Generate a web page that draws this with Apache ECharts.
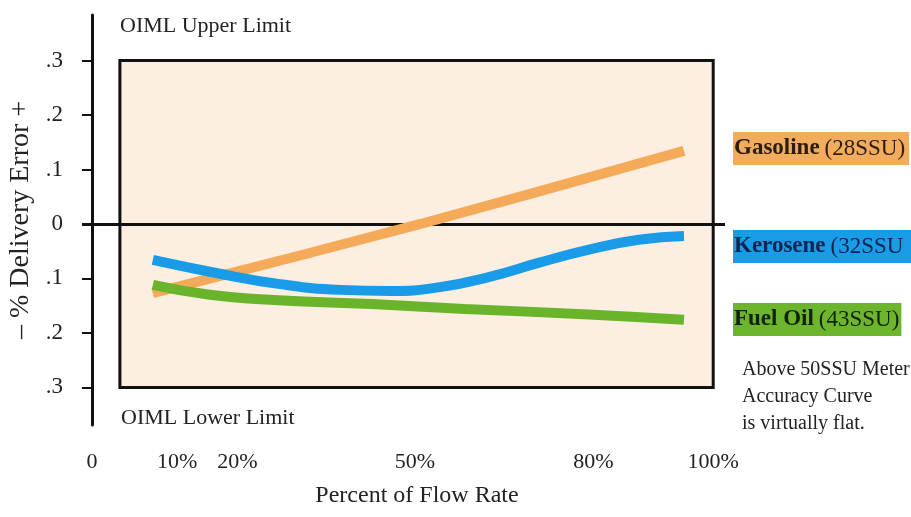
<!DOCTYPE html>
<html>
<head>
<meta charset="utf-8">
<script src="https://cdn.jsdelivr.net/npm/echarts@6/dist/echarts.min.js"></script>
<style>
html,body{margin:0;padding:0;background:#fff;}
#chart{width:911px;height:517px;}
</style>
</head>
<body>
<div id="chart"></div>
<script>
// ---- data ----
const xTickPos = [0, 13.7, 23.4, 52.0, 80.7, 100];
const xTickLabels = ['0', '10%', '20%', '50%', '80%', '100%'];
const yTicks = [-0.3, -0.2, -0.1, 0, 0.1, 0.2, 0.3];
const yTickLabels = ['.3', '.2', '.1', '0', '.1', '.2', '.3'];

const gasolineFlow = [9.8, 52.9, 95.3];
const gasolineError = [-0.127, 0.0, 0.134];

const keroseneFlow = [9.8, 20, 30, 40, 48, 56, 64, 72, 80, 88, 95.3];
const keroseneError = [-0.066, -0.09, -0.11, -0.121, -0.123, -0.116, -0.097, -0.071, -0.047, -0.029, -0.022];

const fuelOilFlow = [9.8, 19, 30, 45, 60, 80, 95.3];
const fuelOilError = [-0.112, -0.13, -0.14, -0.147, -0.156, -0.166, -0.176];

const limitBoxX = [4.5, 100];
const limitBoxY = [-0.3, 0.3];
const xRange = [-1.6, 101.9];
const yRange = [-0.369, 0.3835];

const pairs = (xs, ys) => xs.map((x, i) => [x, ys[i]]);

const serif = '"Liberation Serif", "DejaVu Serif", serif';
const chart = echarts.init(document.getElementById('chart'));

function lineSeries(name, xs, ys, color, smooth) {
  return {
    name, type: 'line', data: pairs(xs, ys), smooth: smooth, symbol: 'none', z: 3,
    lineStyle: { color, width: 10, cap: 'butt' }, silent: true
  };
}

function sideLabel(name, unit, top, bg, fg, padRight) {
  return {
    text: '{b|' + name + '} {n|' + unit + '}',
    left: 733, top: top,
    backgroundColor: bg,
    padding: [5, padRight, 5, 1],
    textStyle: {
      rich: {
        b: { fontFamily: serif, fontSize: 23, fontWeight: 'bold', color: fg, lineHeight: 23 },
        n: { fontFamily: serif, fontSize: 23, fontWeight: 'normal', color: fg, lineHeight: 23 }
      }
    }
  };
}

chart.setOption({
  animation: false,
  backgroundColor: '#ffffff',
  grid: { left: 82, right: 186, top: 15, bottom: 92, containLabel: false, outerBoundsMode: 'none' },
  title: [
    { text: 'OIML Upper Limit', left: 120, top: 15, padding: 0,
      textStyle: { fontFamily: serif, fontSize: 22, fontWeight: 'normal', color: '#222' } },
    { text: 'OIML Lower Limit', left: 121, top: 407, padding: 0,
      textStyle: { fontFamily: serif, fontSize: 22, fontWeight: 'normal', color: '#222' } },
    { text: 'Percent of Flow Rate', left: 417, top: 484, padding: 0, textAlign: 'center',
      textStyle: { fontFamily: serif, fontSize: 24, fontWeight: 'normal', color: '#222' } },
    { text: 'Above 50SSU Meter\nAccuracy Curve\nis virtually flat.', left: 742, top: 356, padding: 0,
      textStyle: { fontFamily: serif, fontSize: 20, fontWeight: 'normal', color: '#222', lineHeight: 27 } },
    sideLabel('Gasoline', '(28SSU)', 132, '#f2ac5e', '#2b1d10', 4),
    sideLabel('Kerosene', '(32SSU', 230, '#1a9be6', '#0d2550', 20),
    sideLabel('Fuel Oil', '(43SSU)', 303, '#6cb52c', '#12220a', 2)
  ],
  xAxis: {
    type: 'value', min: xRange[0], max: xRange[1],
    axisLine: { show: false, onZero: false },
    axisTick: { show: false },
    splitLine: { show: false },
    axisLabel: {
      customValues: xTickPos,
      margin: 26,
      fontFamily: serif, fontSize: 22, color: '#222',
      formatter: (v) => { const i = xTickPos.indexOf(v); return i >= 0 ? xTickLabels[i] : ''; }
    }
  },
  yAxis: {
    type: 'value', min: yRange[0], max: yRange[1],
    name: '– % Delivery Error +',
    nameLocation: 'middle', nameRotate: 90, nameGap: 45,
    nameTextStyle: { fontFamily: serif, fontSize: 28, color: '#222' },
    axisLine: { show: true, onZero: true, lineStyle: { color: '#111', width: 3 } },
    axisTick: { show: true, customValues: yTicks, length: 10, lineStyle: { color: '#111', width: 2 } },
    splitLine: { show: false },
    axisLabel: {
      customValues: yTicks,
      margin: 19,
      fontFamily: serif, fontSize: 23, color: '#222',
      formatter: (v) => {
        let i = -1;
        yTicks.forEach((t, k) => { if (Math.abs(t - v) < 1e-9) i = k; });
        return i >= 0 ? yTickLabels[i] : '';
      }
    }
  },
  series: [
    {
      name: 'limits', type: 'line', data: [], z: 1, silent: true, symbol: 'none',
      markArea: {
        silent: true, z: 1,
        itemStyle: { color: '#fcefe2', borderColor: '#111', borderWidth: 3 },
        data: [[{ coord: [limitBoxX[0], limitBoxY[1]] }, { coord: [limitBoxX[1], limitBoxY[0]] }]]
      },
      markLine: {
        silent: true, z: 2, symbol: 'none',
        label: { show: false },
        lineStyle: { color: '#111', width: 3, type: 'solid' },
        data: [[{ coord: [xRange[0], 0] }, { coord: [xRange[1], 0] }]]
      }
    },
    lineSeries('Gasoline (28SSU)', gasolineFlow, gasolineError, '#f4aa58', 0.3),
    lineSeries('Kerosene (32SSU)', keroseneFlow, keroseneError, '#1a9be8', 0.5),
    lineSeries('Fuel Oil (43SSU)', fuelOilFlow, fuelOilError, '#69b42b', 0.5)
  ]
});
</script>
</body>
</html>
